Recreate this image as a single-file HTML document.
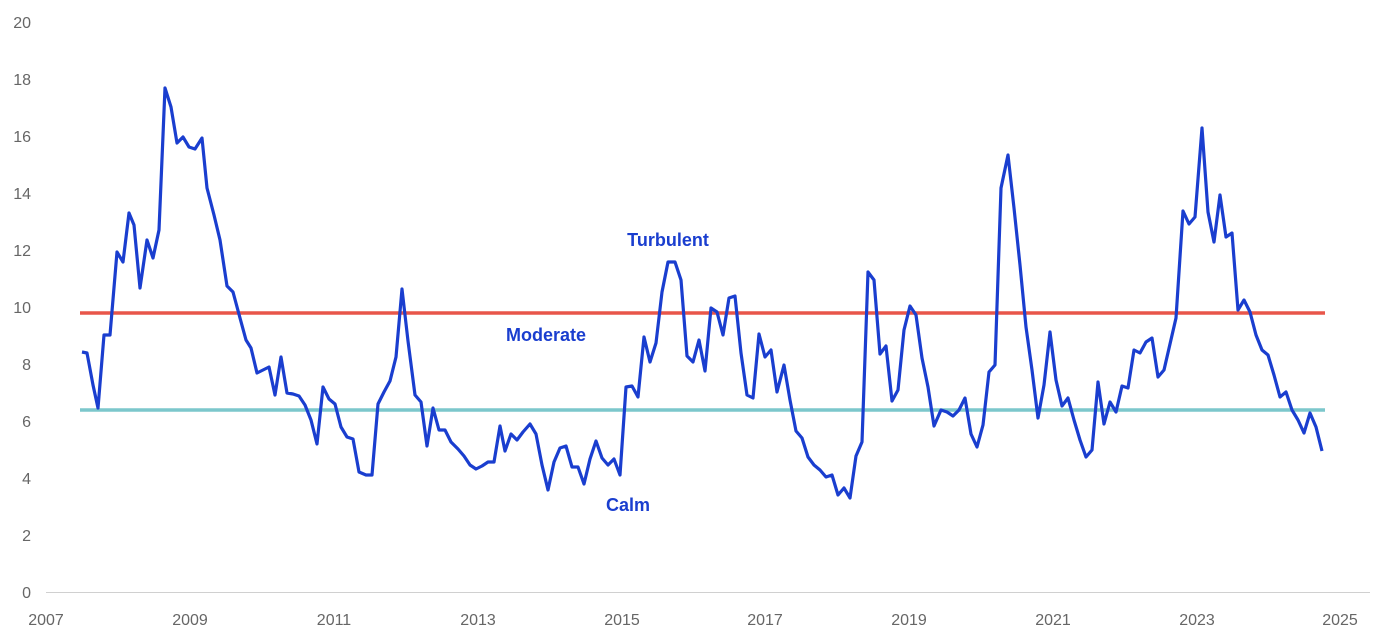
<!DOCTYPE html>
<html><head><meta charset="utf-8"><style>
html,body{margin:0;padding:0;background:#fff;}
svg{display:block;font-family:"Liberation Sans",sans-serif;}
</style></head><body>
<svg width="1388" height="640" viewBox="0 0 1388 640">
<g fill="#666" font-size="16">
<g text-anchor="end">
<text x="31" y="598">0</text><text x="31" y="541">2</text><text x="31" y="484">4</text><text x="31" y="427">6</text><text x="31" y="370">8</text><text x="31" y="313">10</text><text x="31" y="256">12</text><text x="31" y="199">14</text><text x="31" y="142">16</text><text x="31" y="85">18</text><text x="31" y="28">20</text>
</g>
<g text-anchor="middle">
<text x="46" y="625">2007</text><text x="190" y="625">2009</text><text x="334" y="625">2011</text><text x="478" y="625">2013</text><text x="622" y="625">2015</text><text x="765" y="625">2017</text><text x="909" y="625">2019</text><text x="1053" y="625">2021</text><text x="1197" y="625">2023</text><text x="1340" y="625">2025</text>
</g></g>
<line x1="46" y1="592.5" x2="1370" y2="592.5" stroke="#d0d0d0" stroke-width="1"/>
<line x1="80" y1="313" x2="1325" y2="313" stroke="#e8564a" stroke-width="3.5"/>
<line x1="80" y1="410" x2="1325" y2="410" stroke="#7cc7cc" stroke-width="3.5"/>
<polyline fill="none" stroke="#1a3ecf" stroke-width="3.2" stroke-linejoin="round" points="82,352 87,353 93,385 98,408 104,335 110,335 117,252 123,262 129,213 134,225 140,288 147,240 153,258 159,230 165,88 171,107 177,143 183,137 189,147 195,149 202,138 207,188 214,215 220,240 227,286 233,292 240,318 246,340 251,348 257,373 263,370 269,367 275,395 281,357 287,393 293,394 299,396 305,405 311,420 317,444 323,387 329,399 335,404 341,427 347,437 353,439 359,472 366,475 372,475 378,404 384,392 390,381 396,357 402,289 408,341 415,395 421,402 427,446 433,408 439,430 445,430 451,442 458,449 464,456 470,465 476,469 482,466 488,462 494,462 500,426 505,451 511,434 517,440 523,432 530,424 536,434 542,465 548,490 554,462 560,448 566,446 572,467 578,467 584,484 590,459 596,441 602,458 608,465 614,459 620,475 626,387 632,386 638,397 644,337 650,362 656,343 662,292 668,262 675,262 681,280 687,356 693,362 699,340 705,371 711,308 717,312 723,335 729,298 735,296 741,353 747,395 753,398 759,334 765,357 771,350 777,392 784,365 790,400 796,431 802,438 808,457 814,465 820,470 826,477 832,475 838,495 844,488 850,498 856,456 862,442 868,272 874,280 880,354 886,346 892,401 898,390 904,330 910,306 916,315 922,358 928,387 934,426 941,410 947,412 953,416 959,410 965,398 971,434 977,447 983,425 989,372 995,365 1001,188 1008,155 1014,208 1020,265 1026,327 1032,370 1038,418 1044,385 1050,332 1056,380 1062,406 1068,398 1074,420 1080,440 1086,457 1092,450 1098,382 1104,424 1110,402 1116,412 1122,386 1128,388 1134,350 1140,353 1146,342 1152,338 1158,377 1164,370 1170,344 1176,318 1183,211 1189,224 1195,217 1202,128 1208,212 1214,242 1220,195 1226,237 1232,233 1238,310 1244,300 1250,312 1256,335 1262,350 1268,355 1274,375 1280,397 1286,392 1292,410 1298,420 1304,433 1310,413 1316,427 1322,451"/>
<g fill="#1a3ecf" font-size="18" font-weight="bold" text-anchor="middle">
<text x="668" y="246">Turbulent</text>
<text x="546" y="341">Moderate</text>
<text x="628" y="511">Calm</text>
</g>
</svg>
</body></html>
